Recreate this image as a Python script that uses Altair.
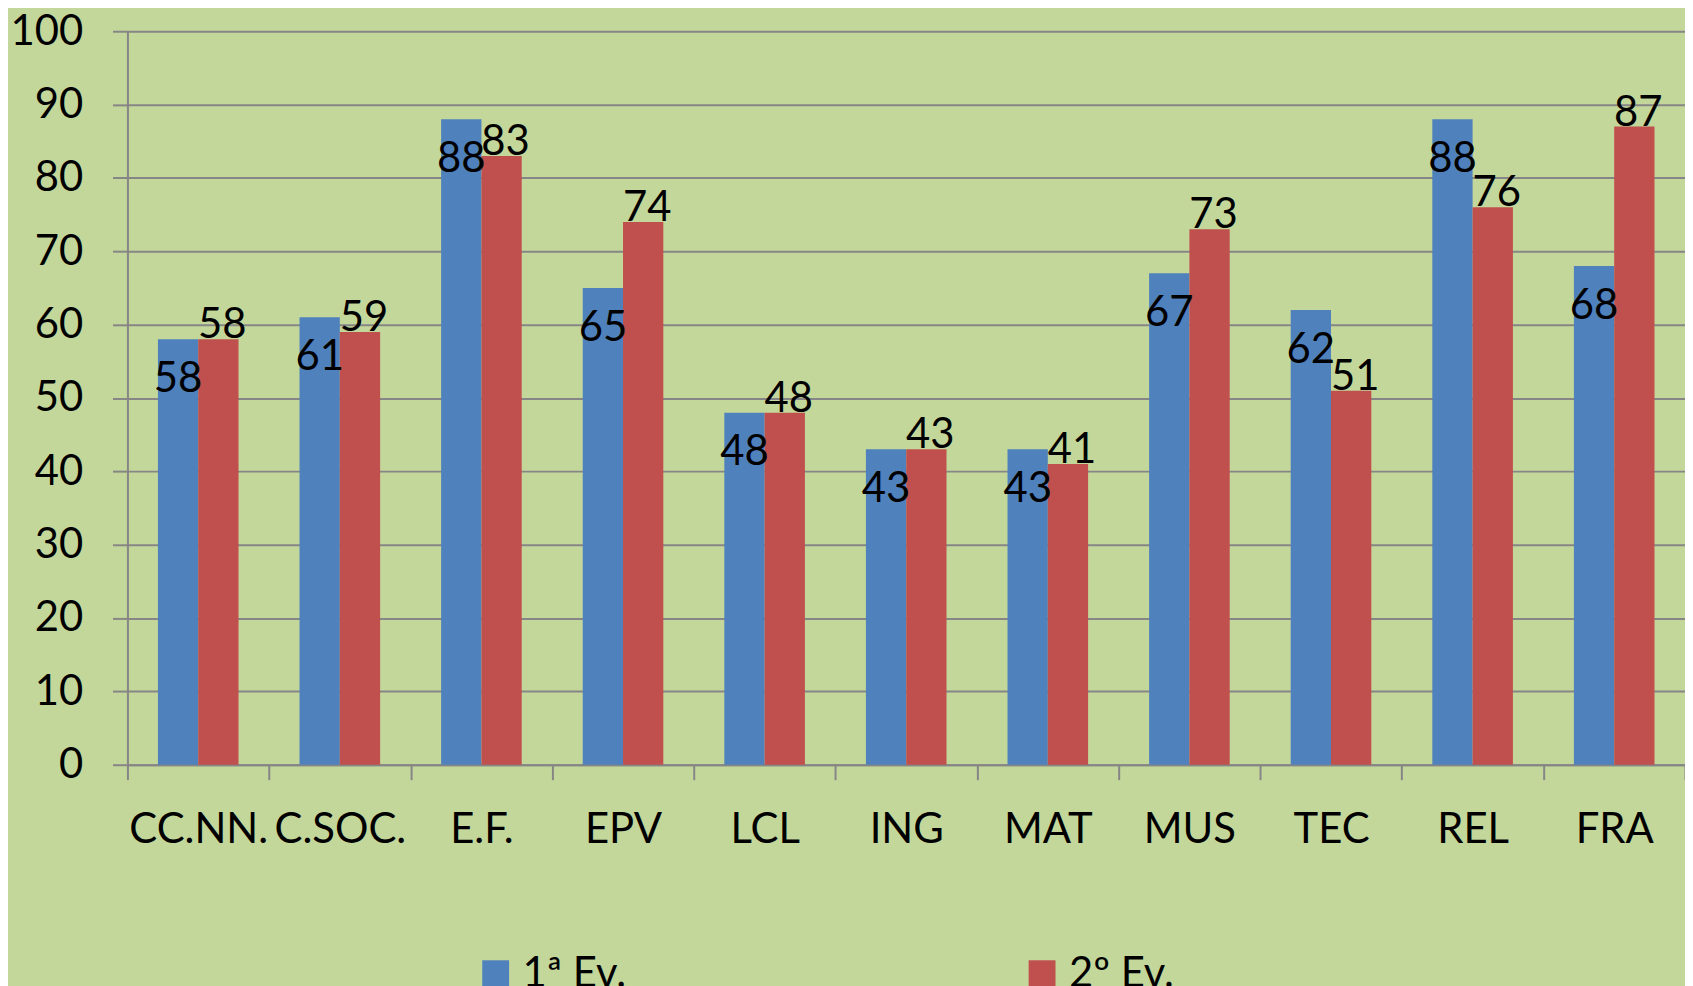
import altair as alt
import pandas as pd

subjects = ["CC.NN.", "C.SOC.", "E.F.", "EPV", "LCL", "ING", "MAT", "MUS", "TEC", "REL", "FRA"]
ev1 = [58, 61, 88, 65, 48, 43, 43, 67, 62, 88, 68]
ev2 = [58, 59, 83, 74, 48, 43, 41, 73, 51, 76, 87]
series = ["1ª Ev.", "2º Ev."]
colors = ["#4F81BD", "#C0504D"]
y_ticks = list(range(0, 101, 10))

rows = []
for s, a, b in zip(subjects, ev1, ev2):
    rows.append({"asig": s, "serie": series[0], "valor": a})
    rows.append({"asig": s, "serie": series[1], "valor": b})
df = pd.DataFrame(rows)

FONT = "Lato"
GRID = "#868686"
BG = "#C4D79B"

x_enc = alt.X(
    "asig:N", sort=subjects,
    scale=alt.Scale(paddingInner=0, paddingOuter=0),
    axis=alt.Axis(title=None, labelAngle=0, tickBand="extent", tickSize=15,
                  labelPadding=30, labelFontSize=42, labelFont=FONT,
                  labelColor="black", domainColor=GRID, domainWidth=2,
                  tickColor=GRID, tickWidth=2, grid=False, labelBaseline="top"),
)
y_enc = alt.Y(
    "valor:Q", scale=alt.Scale(domain=[0, 100], nice=False),
    axis=alt.Axis(title=None, values=y_ticks, tickSize=15, labelPadding=30,
                  labelFontSize=42, labelFont=FONT, labelColor="black",
                  domainColor=GRID, domainWidth=2, tickColor=GRID, tickWidth=2,
                  grid=True, gridColor=GRID, gridWidth=2),
)
xoff = alt.XOffset("serie:N", sort=series,
                   scale=alt.Scale(paddingInner=0, paddingOuter=0.757))

bars = alt.Chart(df).mark_bar().encode(
    x=x_enc, y=y_enc, xOffset=xoff,
    color=alt.Color("serie:N", sort=series,
                    scale=alt.Scale(domain=series, range=colors),
                    legend=alt.Legend(orient="none", legendX=349, legendY=926,
                                      direction="horizontal", columns=2, title=None,
                                      symbolType="square", symbolSize=729,
                                      symbolStrokeWidth=0, symbolOpacity=1,
                                      labelFontSize=42, labelFont=FONT, labelColor="black",
                                      labelOffset=6, columnPadding=396, padding=0)),
)

lab1 = alt.Chart(df).transform_filter(alt.datum.serie == series[0]).mark_text(
    font=FONT, fontSize=42, color="black", baseline="middle", dy=40, dx=0
).encode(x=alt.X("asig:N", sort=subjects), y="valor:Q", xOffset=xoff, text="valor:Q")

lab2 = alt.Chart(df).transform_filter(alt.datum.serie == series[1]).mark_text(
    font=FONT, fontSize=42, color="black", baseline="middle", dy=-14, dx=4
).encode(x=alt.X("asig:N", sort=subjects), y="valor:Q", xOffset=xoff, text="valor:Q")

chart = alt.layer(bars, lab1, lab2).properties(
    width=1565, height=737,
    autosize=alt.AutoSizeParams(type="none"),
    padding={"left": 120, "top": 21, "right": 0, "bottom": 220},
    background=BG,
).configure_view(stroke=None, fill=BG)

chart.save("out.html", embed_options={"renderer": "svg", "actions": False})
